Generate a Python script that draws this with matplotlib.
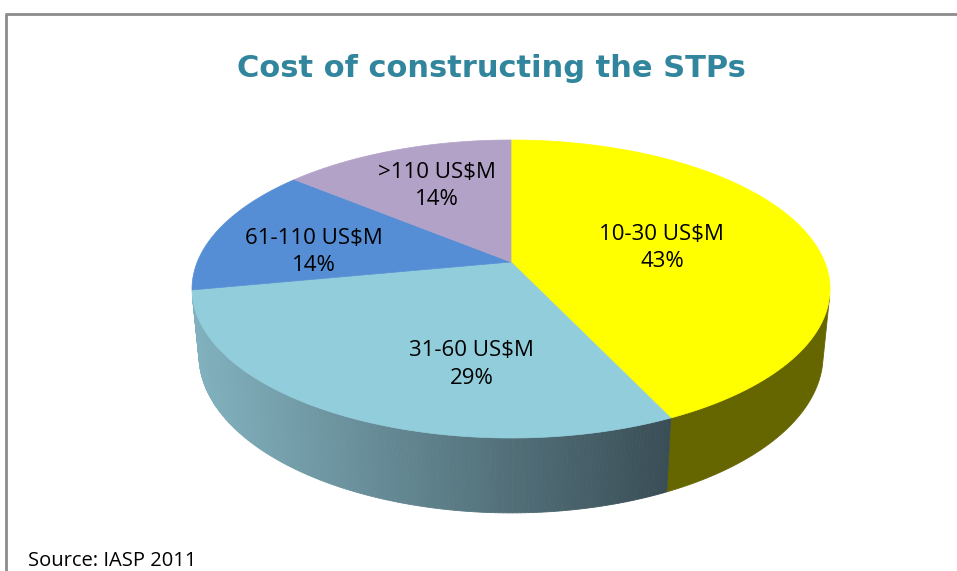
import numpy as np
import matplotlib.pyplot as plt
from matplotlib.patches import Polygon
from matplotlib.colors import to_rgb

# === Chart data ===
categories = ['10-30 US$M', '31-60 US$M', '61-110 US$M', '>110 US$M']
shares = [43, 29, 14, 14]
top_colors = ['#FFFF00', '#92CDDC', '#558ED5', '#B3A2C7']
side_colors = ['#666600', 'gradient', '#3A5F8F', '#6E6180']
side_grad = ['#82B2BF', '#394D55']  # light blue wall, left -> right

title = 'Cost of constructing the STPs'
source = 'Source: IASP 2011'

# === 3D look (Excel style perspective pie) ===
elev = np.radians(26.9)
dist = 4.92
thick = 0.235
W, H = 957, 571
pie_left, pie_right, pie_top, pie_bottom = 192, 830, 140, 438

# label placement: radius on the pie, and a small angle nudge (deg)
label_r = [0.50, 0.64, 0.64, 0.64]
label_nudge = [-1, 17, 8, -1]


def project(X, Y, Z):
    depth = dist + Y * np.cos(elev) - Z * np.sin(elev)
    up = Y * np.sin(elev) + Z * np.cos(elev)
    return X / depth, up / depth


# fit the projected top circle into the pixel box
t = np.linspace(0, 2 * np.pi, 721)
sx, sy = project(np.cos(t), np.sin(t), 0 * t)
kx = (pie_right - pie_left) / (sx.max() - sx.min())
ky = (pie_bottom - pie_top) / (sy.max() - sy.min())


def to_px(X, Y, Z):
    a, b = project(X, Y, Z)
    return pie_left + kx * (a - sx.min()), pie_top + ky * (sy.max() - b)


fig = plt.figure(figsize=(W / 100, H / 100), dpi=100)
ax = fig.add_axes([0, 0, 1, 1])
ax.set_xlim(0, W)
ax.set_ylim(H, 0)
ax.axis('off')

# frame
ax.plot([5, W], [14, 14], color='#8C8C8C', lw=2, solid_capstyle='butt')
ax.plot([6, 6], [14, H], color='#8C8C8C', lw=2, solid_capstyle='butt')

# slice angles, clockwise from 12 o'clock
fracs = np.array(shares) / np.sum(shares)
ends = 90 - 360 * np.cumsum(fracs)
starts = np.concatenate([[90], ends[:-1]])

# wall faces the camera only where sin(a) < -1 / (dist * cos(elev))
lim = np.degrees(np.arcsin(1 / (dist * np.cos(elev))))
vis_lo, vis_hi = -180 + lim, -lim

for i in range(len(shares)):
    a0 = max(min(starts[i], ends[i]), vis_lo)
    a1 = min(max(starts[i], ends[i]), vis_hi)
    if a1 <= a0:
        continue
    if side_colors[i] == 'gradient':
        edges = np.linspace(a0, a1, 160)
        c0, c1 = np.array(to_rgb(side_grad[0])), np.array(to_rgb(side_grad[1]))
        for j in range(len(edges) - 1):
            aa = np.radians(np.linspace(edges[j], edges[j + 1], 3))
            xt, yt = to_px(np.cos(aa), np.sin(aa), 0 * aa)
            xb, yb = to_px(np.cos(aa), np.sin(aa), -thick + 0 * aa)
            f = np.clip((xt.mean() - pie_left) / (675 - pie_left), 0, 1)
            col = c0 + (c1 - c0) * f
            ax.add_patch(Polygon(np.column_stack([np.r_[xt, xb[::-1]], np.r_[yt, yb[::-1]]]),
                                 facecolor=col, edgecolor=col, lw=0.6))
    else:
        aa = np.radians(np.linspace(a0, a1, 200))
        xt, yt = to_px(np.cos(aa), np.sin(aa), 0 * aa)
        xb, yb = to_px(np.cos(aa), np.sin(aa), -thick + 0 * aa)
        ax.add_patch(Polygon(np.column_stack([np.r_[xt, xb[::-1]], np.r_[yt, yb[::-1]]]),
                             facecolor=side_colors[i], edgecolor=side_colors[i], lw=0.6))

# top faces
cx, cy = to_px(0.0, 0.0, 0.0)
for i in range(len(shares)):
    aa = np.radians(np.linspace(starts[i], ends[i], 300))
    xt, yt = to_px(np.cos(aa), np.sin(aa), 0 * aa)
    ax.add_patch(Polygon(np.column_stack([np.r_[cx, xt], np.r_[cy, yt]]),
                         facecolor=top_colors[i], edgecolor=top_colors[i], lw=0.5))

# labels
for i in range(len(shares)):
    mid = np.radians((starts[i] + ends[i]) / 2 + label_nudge[i])
    lx, ly = to_px(label_r[i] * np.cos(mid), label_r[i] * np.sin(mid), 0.0)
    ax.text(lx, ly, f'{categories[i]}\n{shares[i]}%', ha='center', va='center',
            fontsize=16, family='Open Sans', color='#000000', linespacing=1.4)

ax.text(491, 77, title, ha='center', va='baseline', fontsize=22,
        family='DejaVu Sans', fontweight='bold', color='#31859C')
ax.text(28, 566, source, ha='left', va='baseline', fontsize=14.5,
        family='Open Sans', color='#000000')

fig.savefig('out.png', dpi=100)
